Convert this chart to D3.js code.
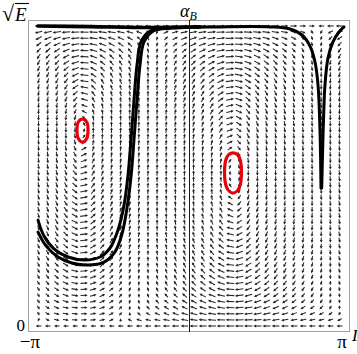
<!DOCTYPE html>
<html><head><meta charset="utf-8">
<script src="https://cdn.jsdelivr.net/npm/d3@7"></script>
<style>body{margin:0;background:#fff}svg{display:block}</style>
</head><body>
<script>
// ---- axis ticks ----
const xTicks = [-Math.PI, Math.PI];
const xTickLabels = ["\u2212\u03c0", "\u03c0"];
const yTicks = [0];
const yTickLabels = ["0"];

// ---- flow cells: centre, turning sign and horizontal width ----
const cellX = [-2.159, 0.892];
const cellY = [0.652, 0.51];
const cellSign = [1, -1];
const cellKappa = [2.2, 1.5];

// ---- arrow grid ----
const gridCols = 34;
const gridRows = 50;

// ---- trajectories (x in rad, y in units of sqrt(E)) ----
const innerU = [[-3.060,0.353],[-2.939,0.300],[-2.736,0.257],[-2.452,0.230],[-2.108,0.220],[-1.804,0.230],[-1.601,0.260],[-1.439,0.320],[-1.317,0.403],[-1.236,0.503],[-1.176,0.620],[-1.115,0.753],[-1.054,0.870],[-0.973,0.947],[-0.790,0.983],[-0.385,0.993]];
const outerU = [[-3.060,0.313],[-2.898,0.267],[-2.655,0.230],[-2.371,0.210],[-2.047,0.203],[-1.723,0.213],[-1.500,0.247],[-1.358,0.307],[-1.257,0.393],[-1.176,0.497],[-1.115,0.620],[-1.054,0.753],[-0.993,0.870],[-0.912,0.947],[-0.730,0.983],[-0.345,0.993],[0.628,0.997],[1.641,0.997],[2.047,0.990],[2.290,0.970],[2.452,0.933],[2.554,0.880],[2.615,0.803],[2.655,0.653],[2.675,0.460]];
const topLeft = [[-3.060,1.000],[-2.007,0.998],[-0.790,0.995],[0.223,0.997]];
const rightBranch = [[3.142,0.997],[3.040,0.980],[2.918,0.947],[2.817,0.893],[2.756,0.803],[2.726,0.687],[2.706,0.570],[2.690,0.460]];

// ---- closed orbits (red) ----
const orbitLeft = [[-2.159,0.690],[-2.067,0.678],[-2.047,0.653],[-2.067,0.627],[-2.159,0.613],[-2.250,0.627],[-2.270,0.653],[-2.250,0.678]];
const orbitRight = [[0.892,0.577],[1.024,0.560],[1.064,0.513],[1.024,0.463],[0.892,0.443],[0.760,0.463],[0.720,0.513],[0.760,0.560]];

const W = 357, H = 354;
const svg = d3.select("body").append("svg").attr("width", W).attr("height", H);

const X = d3.scaleLinear().domain([-Math.PI, Math.PI]).range([34, 344]);
const Y = d3.scaleLinear().domain([0, 1]).range([326, 26]);

// frame with padding around the plot range
svg.append("rect")
  .attr("x", X.range()[0] - 5.5).attr("y", Y.range()[1] - 5.5)
  .attr("width", X.range()[1] - X.range()[0] + 11)
  .attr("height", Y.range()[0] - Y.range()[1] + 11)
  .attr("fill", "none").attr("stroke", "#a0a0a0").attr("stroke-width", 1);

// stream function built from the two cells
function psi(x, y) {
  const yy = Math.min(1, Math.max(0, y));
  let s = 0;
  for (let k = 0; k < cellX.length; k++) {
    const p = Math.log(0.5) / Math.log(cellY[k]);
    const B = Math.sin(Math.PI * Math.pow(yy, p));
    const P = Math.exp(cellKappa[k] * (Math.cos(x - cellX[k]) - 1));
    s += cellSign[k] * B * P;
  }
  return s;
}

const sx = (X.range()[1] - X.range()[0]) / (2 * Math.PI);
const sy = Y.range()[0] - Y.range()[1];
const e = 1e-3;
const field = [];
for (let i = 0; i < gridCols; i++) {
  for (let j = 0; j < gridRows; j++) {
    const x = -Math.PI + (i + 0.5) * 2 * Math.PI / gridCols;
    const y = j / (gridRows - 1);
    const y0 = Math.max(0, y - e), y1 = Math.min(1, y + e);
    const u = (psi(x, y1) - psi(x, y0)) / (y1 - y0);
    const v = -(psi(x + e, y) - psi(x - e, y)) / (2 * e);
    const px = u * sx, py = -v * sy;
    field.push({x, y, px, py, m: Math.hypot(px, py)});
  }
}
const mref = d3.quantile(field.map(d => d.m).sort(d3.ascending), 0.5);

const gA = svg.append("g").attr("stroke", "#262626").attr("fill", "#262626");
field.forEach(d => {
  if (d.m === 0) return;
  const c = d.px / d.m, s = d.py / d.m;
  const Lmax = 1 / Math.hypot(c / 8.6, s / 5.6);
  const L = Lmax * Math.min(1, 0.55 + 0.45 * Math.sqrt(d.m / mref));
  const cx = X(d.x), cy = Y(d.y);
  const x0 = cx - c * L / 2, y0 = cy - s * L / 2;
  const x1 = cx + c * L / 2, y1 = cy + s * L / 2;
  gA.append("line").attr("x1", x0).attr("y1", y0).attr("x2", x1 - c * 1.5).attr("y2", y1 - s * 1.5)
    .attr("stroke-width", 1.05);
  const hl = 2.8, hw = 1.4;
  const bx = x1 - c * hl, by = y1 - s * hl;
  gA.append("path")
    .attr("d", `M${x1},${y1}L${bx - s * hw},${by + c * hw}L${bx + s * hw},${by - c * hw}Z`)
    .attr("stroke", "none");
});

// vertical line at x = 0
const x0px = Math.round(X(0)) + 0.5;
svg.append("line").attr("x1", x0px).attr("x2", x0px)
  .attr("y1", Y.range()[1] - 6).attr("y2", Y.range()[0] + 6)
  .attr("stroke", "#1a1a1a").attr("stroke-width", 1);

const line = d3.line().x(d => X(d[0])).y(d => Y(d[1])).curve(d3.curveCatmullRom.alpha(0.5));
const gC = svg.append("g").attr("fill", "none").attr("stroke", "#000").attr("stroke-linecap", "round").attr("stroke-linejoin", "round");
gC.append("path").attr("d", line(topLeft)).attr("stroke-width", 3.6);
gC.append("path").attr("d", line(innerU)).attr("stroke-width", 3);
gC.append("path").attr("d", line(outerU)).attr("stroke-width", 3);
gC.append("path").attr("d", line(rightBranch)).attr("stroke-width", 3);

const loop = d3.line().x(d => X(d[0])).y(d => Y(d[1])).curve(d3.curveCardinalClosed.tension(0));
const gR = svg.append("g").attr("fill", "none").attr("stroke", "#e8000b").attr("stroke-width", 3.2);
gR.append("path").attr("d", loop(orbitLeft));
gR.append("path").attr("d", loop(orbitRight));

// labels
const serif = "'Liberation Serif', 'DejaVu Serif', serif";
const gT = svg.append("g").attr("font-family", serif).attr("fill", "#000");
xTicks.forEach((t, i) => {
  gT.append("text").attr("x", X(t) + (i === 0 ? -4 : -2)).attr("y", 348)
    .attr("text-anchor", "middle").attr("font-size", 19).text(xTickLabels[i]);
});
yTicks.forEach((t, i) => {
  gT.append("text").attr("x", 25).attr("y", Y(t) + 5)
    .attr("text-anchor", "end").attr("font-size", 17).text(yTickLabels[i]);
});
// sqrt(E) at the top of the y axis
gT.append("text").attr("x", 2).attr("y", 21).attr("font-size", 22).text("\u221a");
gT.append("text").attr("x", 15).attr("y", 21).attr("font-size", 19).attr("font-style", "italic").text("E");
svg.append("line").attr("x1", 15).attr("x2", 29).attr("y1", 3.5).attr("y2", 3.5).attr("stroke", "#000").attr("stroke-width", 1.1);
// alpha_B over the centre line
const aB = gT.append("text").attr("x", 180).attr("y", 17).attr("font-style", "italic");
aB.append("tspan").attr("font-size", 18).text("\u03b1");
aB.append("tspan").attr("font-size", 12).attr("dy", 3).text("B");
// axis end label at the right edge
gT.append("text").attr("x", 352).attr("y", 341).attr("font-size", 17).attr("font-style", "italic").text("\u0393");
</script>
</body></html>
